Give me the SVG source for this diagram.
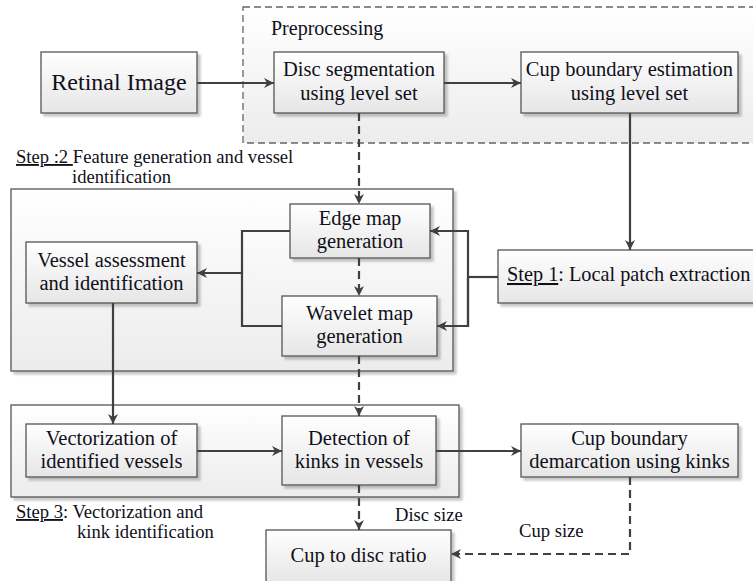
<svg xmlns="http://www.w3.org/2000/svg" width="753" height="581" viewBox="0 0 753 581" font-family="'Liberation Serif', 'Times New Roman', serif">
<defs>
<linearGradient id="g" x1="0" y1="0" x2="0" y2="1"><stop offset="0" stop-color="#ffffff"/><stop offset="1" stop-color="#e6e6e6"/></linearGradient>
<linearGradient id="gc" x1="0" y1="0" x2="0" y2="1"><stop offset="0" stop-color="#ffffff"/><stop offset="1" stop-color="#ececec"/></linearGradient>
<filter id="sh" x="-5%" y="-5%" width="115%" height="125%"><feDropShadow dx="3" dy="3" stdDeviation="1.2" flood-color="#000" flood-opacity="0.22"/></filter>
<marker id="ar" viewBox="0 0 10 10" refX="10" refY="5" markerWidth="10" markerHeight="10" markerUnits="userSpaceOnUse" orient="auto"><path d="M0,0 L10,5 L0,10 L3,5 Z" fill="#404040"/></marker>
<style>
.box{fill:url(#g);stroke:#555;stroke-width:1.3;filter:url(#sh)}
.cont{fill:url(#gc);stroke:#555;stroke-width:1.3;filter:url(#sh)}
.dcont{fill:url(#gc);stroke:#666;stroke-width:1.3;stroke-dasharray:7,4}
text{fill:#10101a}
.t{font-size:20.5px;text-anchor:middle}
.s{font-size:18.6px}
.c{fill:none;stroke:#404040;stroke-width:2.2}
.d{fill:none;stroke:#404040;stroke-width:2.2;stroke-dasharray:8,5}
</style>
</defs>
<g id="preprocessing">
<rect class="dcont" x="243" y="7" width="515" height="136"/>
<text x="271" y="35" style="font-size:20px">Preprocessing</text>
</g>
<g id="step2-container"><rect class="cont" x="11" y="189" width="442" height="182"/></g>
<g id="step3-container"><rect class="cont" x="11" y="405" width="448" height="92"/></g>
<g id="step2-label">
<text class="s" x="16" y="163"><tspan text-decoration="underline">Step :2 </tspan>Feature generation and vessel</text>
<text class="s" x="72" y="183">identification</text>
</g>
<g id="step3-label">
<text class="s" x="16" y="518"><tspan text-decoration="underline">Step 3</tspan>: Vectorization and</text>
<text class="s" x="77" y="538">kink identification</text>
</g>
<g id="retinal"><rect class="box" x="41" y="52" width="156" height="61"/><text class="t" x="119" y="90" style="font-size:24px">Retinal Image</text></g>
<g id="disc"><rect class="box" x="274" y="52" width="170" height="61"/><text class="t" x="359" y="76">Disc segmentation</text><text class="t" x="359" y="100">using level set</text></g>
<g id="cupest"><rect class="box" x="521" y="52" width="217" height="61"/><text class="t" x="629.5" y="76">Cup boundary estimation</text><text class="t" x="629.5" y="100">using level set</text></g>
<g id="edge"><rect class="box" x="290" y="204" width="140" height="54"/><text class="t" x="360" y="225">Edge map</text><text class="t" x="360" y="248">generation</text></g>
<g id="wavelet"><rect class="box" x="282" y="296" width="155" height="60"/><text class="t" x="359.5" y="320">Wavelet map</text><text class="t" x="359.5" y="343">generation</text></g>
<g id="vessel"><rect class="box" x="26" y="242" width="171" height="61"/><text class="t" x="111.5" y="267">Vessel assessment</text><text class="t" x="111.5" y="290">and identification</text></g>
<g id="step1"><rect class="box" x="498" y="250" width="262" height="53"/><text x="507" y="281" style="font-size:20.3px"><tspan text-decoration="underline">Step 1</tspan>: Local patch extraction</text></g>
<g id="vector"><rect class="box" x="26" y="424" width="171" height="53"/><text class="t" x="111.5" y="445">Vectorization of</text><text class="t" x="111.5" y="468">identified vessels</text></g>
<g id="kinks"><rect class="box" x="282" y="416" width="154" height="69"/><text class="t" x="359" y="445">Detection of</text><text class="t" x="359" y="468">kinks in vessels</text></g>
<g id="demarc"><rect class="box" x="521" y="424" width="217" height="53"/><text class="t" x="629.5" y="445">Cup boundary</text><text class="t" x="629.5" y="468">demarcation using kinks</text></g>
<g id="ratio"><rect class="box" x="266" y="530" width="185" height="52"/><text class="t" x="358.5" y="562">Cup to disc ratio</text></g>
<g id="connectors">
<line class="c" x1="197" y1="83" x2="274" y2="83" marker-end="url(#ar)"/>
<line class="c" x1="444" y1="83" x2="521" y2="83" marker-end="url(#ar)"/>
<line class="d" x1="359" y1="113" x2="359" y2="204" marker-end="url(#ar)"/>
<line class="c" x1="630" y1="113" x2="630" y2="250" marker-end="url(#ar)"/>
<polyline class="c" points="498,277 468,277"/>
<polyline class="c" points="468,326 468,231 430,231" marker-end="url(#ar)"/>
<polyline class="c" points="468,277 468,326 437,326" marker-end="url(#ar)"/>
<polyline class="c" points="290,231 242,231 242,326 282,326"/>
<line class="c" x1="242" y1="273" x2="197" y2="273" marker-end="url(#ar)"/>
<line class="d" x1="359" y1="258" x2="359" y2="296" marker-end="url(#ar)"/>
<line class="d" x1="359" y1="356" x2="359" y2="416" marker-end="url(#ar)"/>
<line class="c" x1="113" y1="303" x2="113" y2="424" marker-end="url(#ar)"/>
<line class="c" x1="197" y1="451" x2="282" y2="451" marker-end="url(#ar)"/>
<line class="c" x1="436" y1="451" x2="521" y2="451" marker-end="url(#ar)"/>
<line class="d" x1="359" y1="485" x2="359" y2="530" marker-end="url(#ar)"/>
<polyline class="d" points="630,477 630,554 451,554" marker-end="url(#ar)"/>
<text class="s" x="395" y="521">Disc size</text>
<text class="s" x="519" y="537">Cup size</text>
</g>
</svg>
